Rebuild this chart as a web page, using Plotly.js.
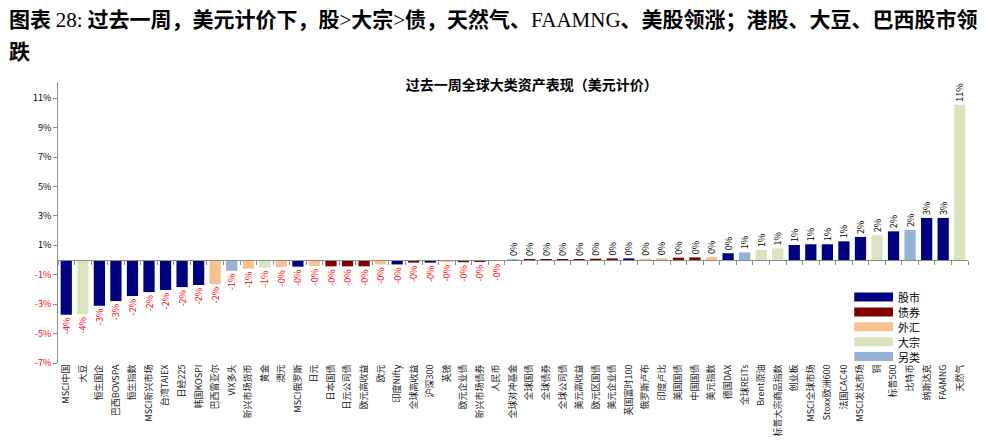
<!DOCTYPE html>
<html>
<head>
<meta charset="utf-8">
<script src="https://cdn.plot.ly/plotly-3.0.1.min.js"></script>
<style>
  html, body { margin: 0; padding: 0; background: #fff; }
  #chart { width: 986px; height: 447px; }
</style>
</head>
<body>
<div id="chart"></div>
<script>
// 资产名称（按涨跌幅排序）
const assets = [
    'MSCI中国', '大豆', '恒生国企', '巴西BOVSPA', '恒生指数', 'MSCI新兴市场', '台湾TAIEX', '日经225',
    '韩国KOSPI', '巴西雷亚尔', 'VIX多头', '新兴市场货币', '黄金', '澳元', 'MSCI俄罗斯', '日元',
    '日本国债', '日元公司债', '欧元高收益', '欧元', '印度Nifty', '全球高收益', '沪深300', '英镑',
    '欧元企业债', '新兴市场债券', '人民币', '全球对冲基金', '全球国债', '全球债券', '全球公司债',
    '美元高收益', '欧元区国债', '美元企业债', '英国富时100', '俄罗斯卢布', '印度卢比', '美国国债',
    '中国国债', '美元指数', '德国DAX', '全球REITs', 'Brent原油', '标普大宗商品指数', '创业板',
    'MSCI全球市场', 'Stoxx欧洲600', '法国CAC40', 'MSCI发达市场', '铜', '标普500', '比特币',
    '纳斯达克', 'FAAMNG', '天然气'
];

// 周涨跌幅（%）
const weeklyReturn = [
    -3.72, -3.68, -3.11, -2.79, -2.45, -2.18, -2.04, -1.84,
    -1.70, -1.63, -0.73, -0.59, -0.52, -0.48, -0.45, -0.41,
    -0.43, -0.43, -0.43, -0.30, -0.30, -0.18, -0.18, -0.11,
    -0.15, -0.13, -0.02, 0.01, 0.04, 0.05, 0.05,
    0.07, 0.09, 0.11, 0.11, 0.09, 0.12, 0.16,
    0.18, 0.20, 0.46, 0.52, 0.68, 0.79, 1.02,
    1.07, 1.07, 1.27, 1.57, 1.68, 1.95, 2.04,
    2.86, 2.86, 10.55
];

// 资产类别
const assetClass = [
    '股市', '大宗', '股市', '股市', '股市', '股市', '股市', '股市',
    '股市', '外汇', '另类', '外汇', '大宗', '外汇', '股市', '外汇',
    '债券', '债券', '债券', '外汇', '股市', '债券', '股市', '外汇',
    '债券', '债券', '外汇', '另类', '债券', '债券', '债券',
    '债券', '债券', '债券', '股市', '外汇', '外汇', '债券',
    '债券', '外汇', '股市', '另类', '大宗', '大宗', '股市',
    '股市', '股市', '股市', '股市', '大宗', '股市', '另类',
    '股市', '股市', '大宗'
];

const classNames = ['股市', '债券', '外汇', '大宗', '另类'];
const classColors = ['#000080', '#800000', '#FAC090', '#D7E4BD', '#95B3D7'];

const yTickVals = [-7, -5, -3, -1, 1, 3, 5, 7, 9, 11];

// 颜色映射
const colorOf = {};
classNames.forEach((c, i) => { colorOf[c] = classColors[i]; });

const barColors = assetClass.map(c => colorOf[c]);
const labelText = weeklyReturn.map(v => (v < 0 ? '-' : '') + Math.round(Math.abs(v)) + '%');
const labelColors = weeklyReturn.map(v => v < 0 ? '#FF0000' : '#000000');
const yTickText = yTickVals.map(v => v < 0
    ? '<span style="fill:#FF0000">' + v + '%</span>'
    : v + '%');

const yMin = -7, yMax = 12.1;
const zeroPos = (0 - yMin) / (yMax - yMin);

const fontCJK = '"Noto Sans CJK SC", "Noto Sans", sans-serif';
const serifSpan = '<span style="font-family:Liberation Serif, DejaVu Serif, serif;font-weight:normal">';

const trace = {
    type: 'bar',
    x: assets,
    y: weeklyReturn,
    marker: { color: barColors, line: { width: 0 } },
    text: labelText,
    textposition: 'outside',
    textangle: -90,
    constraintext: 'none',
    cliponaxis: false,
    textfont: { family: fontCJK, size: 9, color: labelColors },
    hoverinfo: 'x+y',
    showlegend: false
};

// 自定义图例（宽色块）
const legendShapes = [];
const legendNotes = [];
const rowTop = 0.2349, rowStep = 0.0530;
classNames.forEach((name, i) => {
    const yc = rowTop - i * rowStep;
    legendShapes.push({
        type: 'rect', xref: 'paper', yref: 'paper',
        x0: 0.875, x1: 0.9176, y0: yc - 0.016, y1: yc + 0.016,
        fillcolor: classColors[i], line: { width: 0 }
    });
    legendNotes.push({
        xref: 'paper', yref: 'paper', x: 0.921, y: yc,
        xanchor: 'left', yanchor: 'middle', showarrow: false,
        text: name, font: { family: fontCJK, size: 11, color: '#000' }
    });
});

const headline = [
    {
        xref: 'paper', yref: 'paper', x: -0.056, y: 1.2278,
        xanchor: 'left', yanchor: 'middle', showarrow: false,
        text: '<b>图表 ' + serifSpan + '28:</span> 过去一周，美元计价下，股' + serifSpan + '&gt;</span>大宗' +
              serifSpan + '&gt;</span>债，天然气、' + serifSpan + 'FAAMNG</span>、美股领涨；港股、大豆、巴西股市领</b>',
        font: { family: fontCJK, size: 21, color: '#000' }
    },
    {
        xref: 'paper', yref: 'paper', x: -0.056, y: 1.114,
        xanchor: 'left', yanchor: 'middle', showarrow: false,
        text: '<b>跌</b>',
        font: { family: fontCJK, size: 21, color: '#000' }
    }
];

const layout = {
    width: 986,
    height: 447,
    margin: { l: 58, r: 18, t: 82, b: 84 },
    paper_bgcolor: '#fff',
    plot_bgcolor: '#fff',
    bargap: 0.32,
    font: { family: fontCJK, size: 9, color: '#000' },
    title: {
        text: '<b>过去一周全球大类资产表现（美元计价）</b>',
        font: { family: fontCJK, size: 14, color: '#000' },
        x: 0.5205, xref: 'paper', xanchor: 'center',
        y: 1 - 85 / 447, yref: 'container', yanchor: 'middle'
    },
    xaxis: {
        type: 'category',
        categoryorder: 'array',
        categoryarray: assets,
        anchor: 'free',
        position: zeroPos,
        showline: true,
        linecolor: '#8C8C8C',
        linewidth: 1,
        ticks: 'outside',
        tickson: 'boundaries',
        ticklen: 4,
        tickcolor: '#8C8C8C',
        tickangle: -90,
        ticklabelstandoff: 100,
        tickfont: { family: fontCJK, size: 9, color: '#1a1a1a' },
        showgrid: false,
        zeroline: false,
        fixedrange: true
    },
    yaxis: {
        range: [yMin, yMax],
        tickvals: yTickVals,
        ticktext: yTickText,
        showline: true,
        linecolor: '#8C8C8C',
        linewidth: 1,
        ticks: 'outside',
        ticklen: 4,
        tickcolor: '#8C8C8C',
        tickfont: { family: fontCJK, size: 9, color: '#000' },
        showgrid: false,
        zeroline: false,
        fixedrange: true
    },
    shapes: legendShapes,
    annotations: headline.concat(legendNotes)
};

Plotly.newPlot('chart', [trace], layout, { displayModeBar: false, responsive: false });
</script>
</body>
</html>
